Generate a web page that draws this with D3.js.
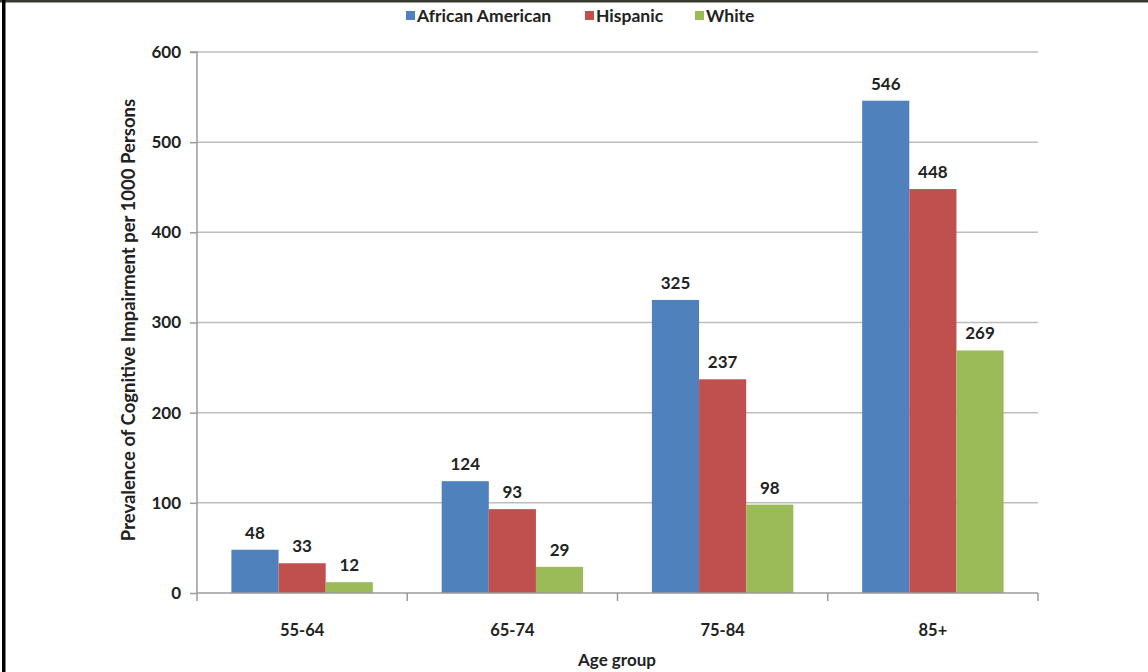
<!DOCTYPE html>
<html><head><meta charset="utf-8">
<script src="https://cdn.jsdelivr.net/npm/d3@7"></script>
<style>
body{margin:0;background:#fff;}
svg{display:block;font-family:Lato,"Open Sans",sans-serif;}
</style></head>
<body>
<svg id="c" width="1148" height="672"></svg>
<script>
const categories = ["55-64","65-74","75-84","85+"];
const seriesNames = ["African American","Hispanic","White"];
const africanAmerican = [48,124,325,546];
const hispanic = [33,93,237,448];
const white = [12,29,98,269];
const yTicks = [0,100,200,300,400,500,600];
const colors = ["#4F81BD","#C0504D","#9BBB59"];
const seriesValues = [africanAmerican, hispanic, white];

const svg = d3.select("#c");
// frame
svg.append("rect").attr("x",0).attr("y",0).attr("width",1148).attr("height",2.5).attr("fill","#3a3a30");
svg.append("rect").attr("x",2).attr("y",0).attr("width",3.5).attr("height",672).attr("fill","#000");

const pL=197, pR=1038, pT=52, pB=593;
const x = d3.scaleBand().domain(categories).range([pL,pR]).paddingInner(0).paddingOuter(0);
const y = d3.scaleLinear().domain([0,600]).range([pB,pT]);
const xs = d3.scaleBand().domain(seriesNames).range([0,x.bandwidth()]).paddingInner(0).paddingOuter(0.73);

// gridlines
svg.append("g").selectAll("line").data(yTicks.filter(t=>t>0)).join("line")
  .attr("x1",pL).attr("x2",pR).attr("y1",d=>y(d)).attr("y2",d=>y(d))
  .attr("stroke","#bdbdbd").attr("stroke-width",1.5);

// y axis
const ya = svg.append("g").attr("transform",`translate(${pL},0)`)
  .call(d3.axisLeft(y).tickValues(yTicks).tickSize(7).tickPadding(9));
ya.select(".domain").attr("stroke","#9a9a9a").attr("stroke-width",1.5).attr("d",`M-7,${pT}H0V${pB}`);
ya.selectAll(".tick line").attr("stroke","#9a9a9a").attr("stroke-width",1.5);
ya.selectAll("text").attr("font-size",17).attr("font-weight","bold").attr("fill","#222").attr("font-family","Lato,sans-serif");

// bars
const groups = svg.append("g").selectAll("g").data(categories).join("g")
  .attr("transform",d=>`translate(${x(d)},0)`);
groups.selectAll("rect").data((d,i)=>seriesNames.map((s,j)=>({s,j,v:seriesValues[j][i]}))).join("rect")
  .attr("x",d=>xs(d.s)).attr("width",xs.bandwidth())
  .attr("y",d=>y(d.v)).attr("height",d=>pB-y(d.v))
  .attr("fill",d=>colors[d.j]);
groups.selectAll("text").data((d,i)=>seriesNames.map((s,j)=>({s,j,v:seriesValues[j][i]}))).join("text")
  .attr("x",d=>xs(d.s)+xs.bandwidth()/2).attr("y",d=>y(d.v)-11)
  .attr("text-anchor","middle").attr("font-size",17).attr("font-weight","bold").attr("fill","#222")
  .text(d=>d.v);

// x axis
const xa = svg.append("g").attr("transform",`translate(0,${pB})`)
  .call(d3.axisBottom(x).tickSize(0).tickPadding(31));
xa.select(".domain").remove();
svg.append("line").attr("x1",pL).attr("x2",pR).attr("y1",pB).attr("y2",pB).attr("stroke","#9a9a9a").attr("stroke-width",1.5);
const bounds = categories.map(c=>x(c)).concat([pR]);
svg.append("g").selectAll("line").data(bounds).join("line")
  .attr("x1",d=>d).attr("x2",d=>d).attr("y1",pB).attr("y2",pB+8)
  .attr("stroke","#9a9a9a").attr("stroke-width",1.5);
xa.selectAll("text").attr("font-size",16.5).attr("font-weight","bold").attr("fill","#222").attr("font-family","Lato,sans-serif");

// axis titles
svg.append("text").attr("x",617).attr("y",666).attr("text-anchor","middle")
  .attr("font-size",17).attr("font-weight","bold").attr("fill","#222").text("Age group");
svg.append("text").attr("transform",`translate(135,320) rotate(-90)`).attr("text-anchor","middle")
  .attr("font-size",18.5).attr("font-weight","bold").attr("fill","#222").text("Prevalence of Cognitive Impairment per 1000 Persons");

// legend
const legX = [406,585,695];
const leg = svg.append("g").selectAll("g").data(seriesNames).join("g")
  .attr("transform",(d,i)=>`translate(${legX[i]},11)`);
leg.append("rect").attr("width",9).attr("height",9).attr("fill",(d,i)=>colors[i]);
leg.append("text").attr("x",11).attr("y",10.5).attr("font-size",17.5).attr("font-weight","bold").attr("fill","#222").text(d=>d);
</script>
</body></html>
